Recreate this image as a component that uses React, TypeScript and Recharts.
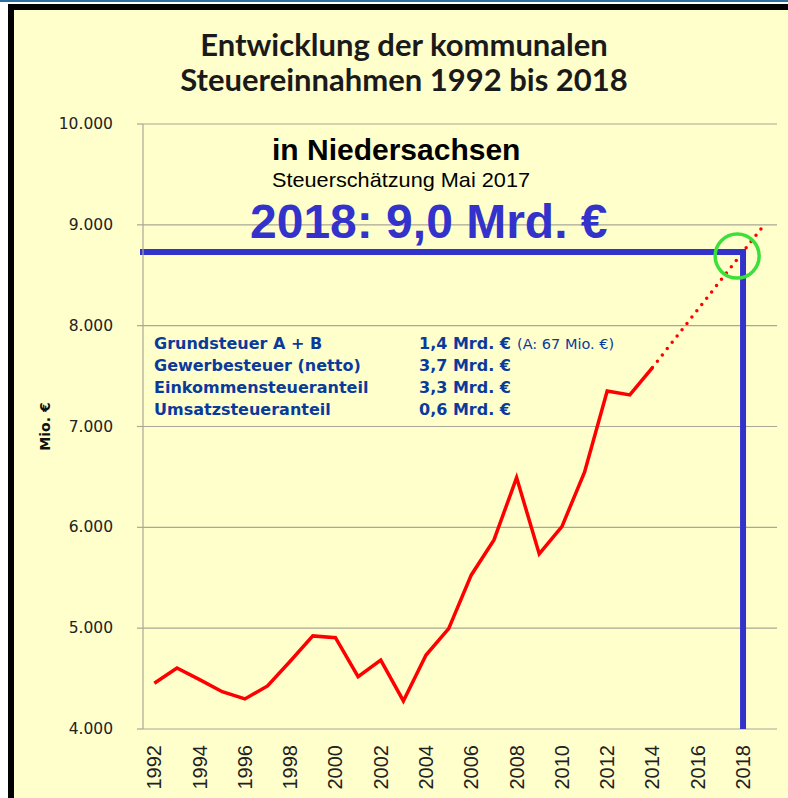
import React from 'react';
import {
  LineChart,
  Line,
  XAxis,
  YAxis,
  CartesianGrid,
  ReferenceLine,
  ReferenceDot,
} from 'recharts';

// Kommunale Steuereinnahmen Niedersachsen, Mio. €
const years = [
  1992, 1993, 1994, 1995, 1996, 1997, 1998, 1999, 2000, 2001, 2002, 2003, 2004, 2005,
  2006, 2007, 2008, 2009, 2010, 2011, 2012, 2013, 2014, 2015, 2016, 2017, 2018, 2019,
];
const actual = [
  4453, 4605, 4490, 4370, 4298, 4427, 4672, 4923, 4906, 4519, 4684, 4278, 4734, 4995,
  5528, 5875, 6493, 5736, 6007, 6547, 7353, 7313, 7585, null, null, null, null, null,
];
// Prognose (Steuerschätzung Mai 2017), gepunktet
const forecast = [
  null, null, null, null, null, null, null, null, null, null, null, null, null, null,
  null, null, null, null, null, null, null, null, 7585, null, null, null, null, 9020,
];

const yTicks = [4000, 5000, 6000, 7000, 8000, 9000, 10000];
const labelYears = [1992, 1994, 1996, 1998, 2000, 2002, 2004, 2006, 2008, 2010, 2012, 2014, 2016, 2018];
const gridYears = [
  1991.5, 1992.5, 1993.5, 1994.5, 1995.5, 1996.5, 1997.5, 1998.5, 1999.5, 2000.5, 2001.5,
  2002.5, 2003.5, 2004.5, 2005.5, 2006.5, 2007.5, 2008.5, 2009.5, 2010.5, 2011.5, 2012.5,
  2013.5, 2014.5, 2015.5, 2016.5, 2017.5, 2018.5, 2019.5,
];

const targetYear = 2018;
const targetValue = 8730;

const taxNames = ['Grundsteuer A + B', 'Gewerbesteuer (netto)', 'Einkommensteueranteil', 'Umsatzsteueranteil'];
const taxAmounts = ['1,4 Mrd. €', '3,7 Mrd. €', '3,3 Mrd. €', '0,6 Mrd. €'];
const grundsteuerNote = '(A: 67 Mio. €)';

const data = years.map((year, i) => ({ year, actual: actual[i], forecast: forecast[i] }));

const fmt = (v: number) => String(v).replace(/\B(?=(\d{3})+(?!\d))/g, '.');

const BLUE = '#3333CC';
const TEXT_BLUE = '#0A3A9C';
const GRID = '#A9A796';

function YearTick(props: any) {
  const { x, y, payload } = props;
  return (
    <text
      x={x}
      y={y}
      transform={`rotate(-90 ${x} ${y})`}
      textAnchor="end"
      dominantBaseline="central"
      fontFamily="'Liberation Sans', Arial, sans-serif"
      fontSize={20}
      fill="#222"
    >
      {payload.value}
    </text>
  );
}

function ValueTick(props: any) {
  const { x, y, payload } = props;
  return (
    <text
      x={x}
      y={y}
      textAnchor="end"
      dominantBaseline="central"
      fontFamily="'DejaVu Sans', Verdana, sans-serif"
      fontSize={15.5}
      fill="#222"
    >
      {fmt(payload.value)}
    </text>
  );
}

export default function App() {
  return (
    <div style={{ position: 'absolute', left: 0, top: 0, width: 788, height: 798, background: '#fff', overflow: 'hidden' }}>
      <div style={{ position: 'absolute', left: 0, top: 0, width: 788, height: 2, background: '#2C6E9C' }} />
      <div
        style={{
          position: 'absolute',
          left: 8,
          top: 4,
          width: 800,
          height: 820,
          background: '#FFFFCC',
          borderLeft: '6px solid #000',
          borderTop: '6px solid #000',
        }}
      />
      <div style={{ position: 'absolute', left: 0, top: 0 }}>
        <LineChart width={788} height={798} data={data} margin={{ top: 124, right: 11, bottom: 9, left: 0 }}>
          <CartesianGrid vertical={false} stroke={GRID} strokeWidth={1.2} />
          <XAxis
            xAxisId="grid"
            dataKey="year"
            type="number"
            domain={[1991.5, 2019.5]}
            ticks={gridYears}
            tick={false}
            height={0}
            tickSize={6}
            stroke={GRID}
            strokeWidth={1.2}
          />
          <XAxis
            xAxisId="lab"
            dataKey="year"
            type="number"
            domain={[1991.5, 2019.5]}
            ticks={labelYears}
            axisLine={false}
            tickLine={false}
            tickSize={6}
            tickMargin={10}
            height={60}
            tick={<YearTick />}
          />
          <YAxis
            domain={[4000, 10000]}
            ticks={yTicks}
            width={143}
            tickSize={6}
            tickMargin={24}
            stroke={GRID}
            strokeWidth={1.2}
            tick={<ValueTick />}
            label={{
              value: 'Mio. €',
              angle: -90,
              position: 'insideLeft',
              offset: 45,
              style: { fontFamily: "'DejaVu Sans', Verdana, sans-serif", fontSize: 14, fontWeight: 700, fill: '#111', textAnchor: 'middle' },
            }}
          />
          <Line
            xAxisId="lab"
            dataKey="actual"
            stroke="#FF0000"
            strokeWidth={3.5}
            dot={false}
            isAnimationActive={false}
          />
          <Line
            xAxisId="lab"
            dataKey="forecast"
            stroke="#FF0000"
            strokeWidth={3.5}
            strokeDasharray="0 8"
            strokeLinecap="round"
            connectNulls
            dot={false}
            isAnimationActive={false}
          />
          <ReferenceLine
            xAxisId="lab"
            segment={[{ x: targetYear, y: 4000 }, { x: targetYear, y: targetValue }]}
            stroke={BLUE}
            strokeWidth={6}
          />
          <ReferenceLine
            xAxisId="lab"
            segment={[{ x: 1991.5, y: targetValue }, { x: targetYear, y: targetValue }]}
            stroke={BLUE}
            strokeWidth={6}
            strokeLinecap="square"
          />
          <ReferenceDot
            xAxisId="lab"
            x={2017.74}
            y={8690}
            r={22}
            fill="none"
            stroke="#3BE03B"
            strokeWidth={3.5}
          />
        </LineChart>
      </div>
      <svg width={788} height={798} style={{ position: 'absolute', left: 0, top: 0, pointerEvents: 'none' }}>
        <g fontFamily="Lato, 'Open Sans', sans-serif" fontWeight={700} fontSize={31} fill="#1a1a1a" textAnchor="middle">
          <text x={404} y={56}>Entwicklung der kommunalen</text>
          <text x={404} y={91}>Steuereinnahmen 1992 bis 2018</text>
        </g>
        <text x={272} y={160} fontFamily="'Liberation Sans', Arial, sans-serif" fontWeight={700} fontSize={30} fill="#000">
          in Niedersachsen
        </text>
        <text
          x={272}
          y={187}
          fontFamily="'Liberation Sans', Arial, sans-serif"
          fontSize={21}
          fill="#000"
          textLength={258}
          lengthAdjust="spacingAndGlyphs"
        >
          Steuerschätzung Mai 2017
        </text>
        <text x={250} y={238} fontFamily="'Liberation Sans', Arial, sans-serif" fontWeight={700} fontSize={48} fill={BLUE}>
          2018: 9,0 Mrd. €
        </text>
        <g fontFamily="'DejaVu Sans', Verdana, sans-serif" fontSize={16} fontWeight={700} fill={TEXT_BLUE}>
          {taxNames.map((name, i) => (
            <text key={name} x={154} y={349 + i * 22}>{name}</text>
          ))}
          {taxAmounts.map((amt, i) => (
            <text key={i} x={419} y={349 + i * 22}>{amt}</text>
          ))}
        </g>
        <text x={517} y={349} fontFamily="'DejaVu Sans', Verdana, sans-serif" fontSize={14.5} fill={TEXT_BLUE}>
          {grundsteuerNote}
        </text>
      </svg>
    </div>
  );
}
